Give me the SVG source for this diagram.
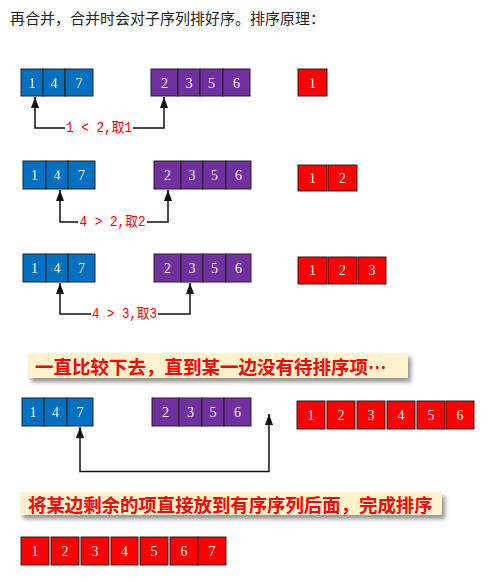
<svg xmlns="http://www.w3.org/2000/svg" width="490" height="582" viewBox="0 0 490 582">
<style>
.b{fill:#0070C0;stroke:#222;stroke-width:1}
.p{fill:#7030A0;stroke:#222;stroke-width:1}
.r{fill:#FF0000;stroke:#222;stroke-width:1}
.n{font-family:"Liberation Serif","Noto Sans CJK SC",serif;font-size:14px;fill:#f4f4f4;text-anchor:middle;dominant-baseline:central}
.lbl{font-family:"Liberation Mono","Noto Sans CJK SC",monospace;font-size:14px;fill:#FF0000;text-anchor:middle;dominant-baseline:central}
.ln{fill:none;stroke:#111;stroke-width:1.5}
.ban{fill:#FFF2CC}
.bt{font-family:"Noto Sans CJK SC",sans-serif;font-weight:bold;fill:#FF0000;dominant-baseline:central}
.title{font-family:"Noto Sans CJK SC",sans-serif;font-size:15px;fill:#222}
</style>
<defs>
<marker id="ah" viewBox="0 0 11 8" refX="11" refY="4" markerWidth="11" markerHeight="8" markerUnits="userSpaceOnUse" orient="auto-start-reverse">
<path d="M0,0 L11,4 L0,8 Z" fill="#111"/>
</marker>
<filter id="sh" x="-5%" y="-30%" width="112%" height="170%">
<feDropShadow dx="3" dy="4" stdDeviation="2" flood-color="#777" flood-opacity="0.8"/>
</filter>
</defs>
<rect width="490" height="582" fill="#fff"/>
<text class="title" x="10" y="24">再合并，合并时会对子序列排好序。排序原理：</text>

<!-- Row 1 -->
<g id="row1-left">
<rect class="b" x="21" y="69" width="22" height="27"/><rect class="b" x="43" y="69" width="22" height="27"/><rect class="b" x="65" y="69" width="28" height="27"/>
<text class="n" x="32" y="83">1</text><text class="n" x="54" y="83">4</text><text class="n" x="79" y="83">7</text>
</g>
<g id="row1-right">
<rect class="p" x="151" y="69" width="27" height="27"/><rect class="p" x="178" y="69" width="22" height="27"/><rect class="p" x="200" y="69" width="23" height="27"/><rect class="p" x="223" y="69" width="27" height="27"/>
<text class="n" x="164.5" y="83">2</text><text class="n" x="189" y="83">3</text><text class="n" x="211.5" y="83">5</text><text class="n" x="236.5" y="83">6</text>
</g>
<g id="row1-result">
<rect class="r" x="298" y="69" width="29" height="27"/>
<text class="n" x="312.5" y="83">1</text>
</g>
<text class="lbl" x="99" y="128" textLength="66" lengthAdjust="spacingAndGlyphs">1 &lt; 2,取1</text>

<!-- Row 2 -->
<g id="row2-left">
<rect class="b" x="23" y="161" width="23" height="28"/><rect class="b" x="46" y="161" width="22" height="28"/><rect class="b" x="68" y="161" width="27" height="28"/>
<text class="n" x="34.5" y="175">1</text><text class="n" x="57" y="175">4</text><text class="n" x="81.5" y="175">7</text>
</g>
<g id="row2-right">
<rect class="p" x="154" y="161" width="27" height="28"/><rect class="p" x="181" y="161" width="22" height="28"/><rect class="p" x="203" y="161" width="23" height="28"/><rect class="p" x="226" y="161" width="25" height="28"/>
<text class="n" x="167.5" y="175">2</text><text class="n" x="192" y="175">3</text><text class="n" x="214.5" y="175">5</text><text class="n" x="238.5" y="175">6</text>
</g>
<g id="row2-result">
<rect class="r" x="298" y="165" width="29" height="26"/><rect class="r" x="328" y="165" width="29" height="26"/>
<text class="n" x="312.5" y="178">1</text><text class="n" x="342.5" y="178">2</text>
</g>
<text class="lbl" x="112.5" y="222" textLength="66" lengthAdjust="spacingAndGlyphs">4 &gt; 2,取2</text>

<!-- Row 3 -->
<g id="row3-left">
<rect class="b" x="23" y="254" width="23" height="28"/><rect class="b" x="46" y="254" width="22" height="28"/><rect class="b" x="68" y="254" width="27" height="28"/>
<text class="n" x="34.5" y="268">1</text><text class="n" x="57" y="268">4</text><text class="n" x="81.5" y="268">7</text>
</g>
<g id="row3-right">
<rect class="p" x="154" y="254" width="27" height="28"/><rect class="p" x="181" y="254" width="22" height="28"/><rect class="p" x="203" y="254" width="23" height="28"/><rect class="p" x="226" y="254" width="25" height="28"/>
<text class="n" x="167.5" y="268">2</text><text class="n" x="192" y="268">3</text><text class="n" x="214.5" y="268">5</text><text class="n" x="238.5" y="268">6</text>
</g>
<g id="row3-result">
<rect class="r" x="298" y="257" width="29" height="27"/><rect class="r" x="328" y="257" width="29" height="27"/><rect class="r" x="358" y="257" width="28" height="27"/>
<text class="n" x="312.5" y="270.5">1</text><text class="n" x="342.5" y="270.5">2</text><text class="n" x="372" y="270.5">3</text>
</g>
<text class="lbl" x="124.5" y="314" textLength="65" lengthAdjust="spacingAndGlyphs">4 &gt; 3,取3</text>

<!-- Banner 1 -->
<g id="banner1">
<rect class="ban" x="28" y="353" width="380" height="25" filter="url(#sh)"/>
<text class="bt" x="35" y="366" font-size="18.5">一直比较下去，直到某一边没有待排序项…</text>
</g>

<!-- Row 4 -->
<g id="row4-left">
<rect class="b" x="22" y="398" width="22" height="28"/><rect class="b" x="44" y="398" width="23" height="28"/><rect class="b" x="67" y="398" width="26" height="28"/>
<text class="n" x="33" y="412">1</text><text class="n" x="55.5" y="412">4</text><text class="n" x="80" y="412">7</text>
</g>
<g id="row4-right">
<rect class="p" x="152" y="398" width="27" height="28"/><rect class="p" x="179" y="398" width="23" height="28"/><rect class="p" x="202" y="398" width="22" height="28"/><rect class="p" x="224" y="398" width="27" height="28"/>
<text class="n" x="165.5" y="412">2</text><text class="n" x="190.5" y="412">3</text><text class="n" x="213" y="412">5</text><text class="n" x="237.5" y="412">6</text>
</g>
<g id="row4-result">
<rect class="r" x="297" y="401" width="28" height="28"/><rect class="r" x="327" y="401" width="28" height="28"/><rect class="r" x="357" y="401" width="28" height="28"/><rect class="r" x="387" y="401" width="28" height="28"/><rect class="r" x="417" y="401" width="28" height="28"/><rect class="r" x="446" y="401" width="28" height="28"/>
<text class="n" x="311" y="415">1</text><text class="n" x="341" y="415">2</text><text class="n" x="371" y="415">3</text><text class="n" x="401" y="415">4</text><text class="n" x="431" y="415">5</text><text class="n" x="460" y="415">6</text>
</g>

<!-- Banner 2 -->
<g id="banner2">
<rect class="ban" x="20" y="492" width="422" height="23" filter="url(#sh)"/>
<text class="bt" x="28" y="503.5" font-size="18.4">将某边剩余的项直接放到有序序列后面，完成排序</text>
</g>

<!-- Row 5 -->
<g id="final">
<rect class="r" x="21" y="537" width="28" height="28"/><rect class="r" x="51" y="537" width="28" height="28"/><rect class="r" x="81" y="537" width="28" height="28"/><rect class="r" x="111" y="537" width="27" height="28"/><rect class="r" x="140" y="537" width="28" height="28"/><rect class="r" x="170" y="537" width="28" height="28"/><rect class="r" x="198" y="537" width="28" height="28"/>
<text class="n" x="35" y="551">1</text><text class="n" x="65" y="551">2</text><text class="n" x="95" y="551">3</text><text class="n" x="124.5" y="551">4</text><text class="n" x="154" y="551">5</text><text class="n" x="184" y="551">6</text><text class="n" x="212" y="551">7</text>
</g>

<!-- Connectors -->
<g id="connectors">
<path class="ln" d="M65,128 H35 V97" marker-end="url(#ah)"/>
<path class="ln" d="M133,128 H164 V97" marker-end="url(#ah)"/>
<path class="ln" d="M78,222 H60 V190" marker-end="url(#ah)"/>
<path class="ln" d="M147,222 H168 V190" marker-end="url(#ah)"/>
<path class="ln" d="M91,314 H60 V283" marker-end="url(#ah)"/>
<path class="ln" d="M158,314 H190 V283" marker-end="url(#ah)"/>
<path class="ln" d="M80,427 V471.5 H269 V414" marker-start="url(#ah)" marker-end="url(#ah)"/>
</g>
</svg>
